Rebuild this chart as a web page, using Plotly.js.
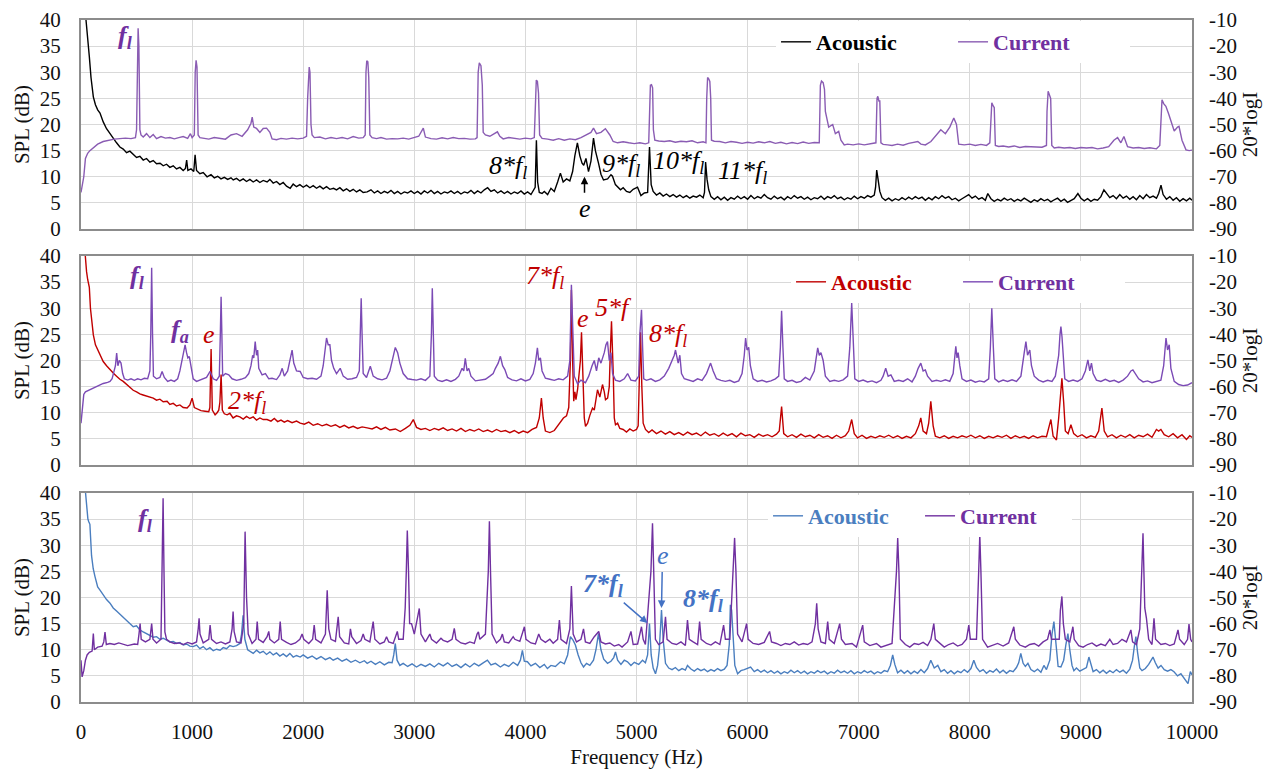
<!DOCTYPE html>
<html><head><meta charset="utf-8">
<script src="https://cdn.plot.ly/plotly-3.0.1.min.js"></script>
<style>html,body{margin:0;padding:0;background:#fff}#chart{width:1275px;height:772px}</style>
</head><body><div id="chart"></div>
<script>
// ---------- data: [frequency Hz, value] ----------
const xTickVals = [0,1000,2000,3000,4000,5000,6000,7000,8000,9000,10000];
const xTickText = ['0','1000','2000','3000','4000','5000','6000','7000','8000','9000','10000'];
const splTickVals = [0,5,10,15,20,25,30,35,40];
const currentTickVals = [-90,-80,-70,-60,-50,-40,-30,-20,-10];
const currentTickText = ['-90','-80','-70','-60','-50','-40','-30','-20','-10'];
const seriesNames = ['Acoustic','Current'];

// Panel 1 acoustic (SPL, dB)
const topAcoustic = [[15,60],[30,45],[45,40],[60,37],[75,33],[90,29],[111,25.3],[130,23.8],[150,22.8],[171,22.2],[200,20.5],[230,19.2],[260,18.2],[290,17.4],[320,16.5],[350,15.7],[380,15.3],[410,14.6],[440,14.9],[470,14.2],[500,13.7],[530,13.9],[560,13.2],[590,13.5],[620,12.8],[650,13.1],[680,12.5],[712,12.6],[740,12.1],[770,12.4],[800,11.8],[830,12.1],[860,11.5],[890,11.8],[920,11.2],[940,11.6],[951,13.2],[962,11.2],[990,11.5],[1015,11],[1027,14.2],[1040,11.2],[1070,10.6],[1100,10.8],[1135,10],[1170,10.4],[1200,9.8],[1230,10.1],[1260,9.6],[1290,9.9],[1320,9.5],[1350,9.8],[1370,9.4],[1400,9.7],[1430,9.2],[1460,9.6],[1490,9.1],[1520,9.5],[1550,9.0],[1580,9.4],[1610,8.9],[1640,9.3],[1675,9.0],[1700,9.5],[1730,8.8],[1760,9.1],[1790,8.5],[1820,8.9],[1850,8.2],[1883,7.8],[1910,8.6],[1940,8.1],[1970,8.5],[2000,8.0],[2030,8.4],[2060,7.9],[2090,8.3],[2120,7.8],[2150,8.2],[2180,7.7],[2210,8.1],[2240,7.6],[2273,7.8],[2300,7.5],[2330,7.9],[2360,7.3],[2390,7.7],[2420,7.2],[2450,7.6],[2480,7.1],[2510,7.5],[2540,7.0],[2576,7.1],[2610,7.5],[2640,6.9],[2670,7.3],[2700,6.8],[2730,7.2],[2760,6.9],[2790,7.4],[2820,6.8],[2850,7.2],[2880,6.7],[2910,7.1],[2940,6.9],[2970,7.3],[3000,6.8],[3030,7.2],[3060,6.7],[3090,7.3],[3120,6.9],[3150,7.4],[3180,6.8],[3210,7.2],[3240,6.7],[3270,7.1],[3300,6.9],[3330,7.3],[3360,6.8],[3390,7.2],[3420,6.7],[3450,7.1],[3480,6.9],[3510,7.4],[3540,6.8],[3570,7.3],[3600,6.9],[3630,7.5],[3660,7.9],[3690,7.2],[3720,7.5],[3750,6.9],[3780,7.3],[3810,6.8],[3840,7.2],[3870,6.7],[3900,7.1],[3930,6.8],[3960,7.3],[3990,6.7],[4020,7.1],[4050,6.6],[4075,7.4],[4088,8],[4099,17],[4110,9],[4125,7],[4150,6.8],[4170,7.2],[4200,6.6],[4230,7.8],[4260,7.2],[4290,9.0],[4315,10.7],[4340,9.0],[4370,9.6],[4400,9.2],[4425,11],[4445,14],[4468,16.5],[4490,14],[4510,12.6],[4525,12.2],[4545,13.5],[4568,11],[4590,13],[4613,17.4],[4630,15],[4658,12.6],[4680,10.5],[4703,9.4],[4740,9.6],[4770,10.4],[4784,10.1],[4810,8.5],[4856,7.5],[4880,7.9],[4910,7.2],[4940,7.0],[4970,7.6],[5009,8.0],[5040,6.4],[5070,6.9],[5100,7.0],[5117,15.7],[5132,8.5],[5150,7.2],[5180,6.5],[5210,6.9],[5240,6.3],[5270,6.7],[5300,6.2],[5330,6.6],[5360,6.1],[5390,6.5],[5420,6.0],[5450,6.4],[5480,5.9],[5510,6.3],[5540,6.1],[5570,6.5],[5600,6.0],[5612,7],[5622,12.8],[5635,9.5],[5650,7.5],[5670,6.2],[5700,5.7],[5730,6.2],[5760,5.6],[5790,6.1],[5820,5.5],[5850,6.0],[5880,5.7],[5910,6.3],[5940,5.8],[5970,6.2],[6000,5.7],[6030,6.4],[6060,5.8],[6090,6.2],[6120,5.9],[6150,6.6],[6180,6.0],[6210,5.7],[6240,6.3],[6270,5.8],[6300,6.1],[6330,5.6],[6360,6.2],[6390,5.8],[6420,6.4],[6450,5.9],[6480,6.2],[6510,5.7],[6540,6.1],[6570,5.6],[6600,6.0],[6630,5.8],[6660,6.3],[6690,5.7],[6720,6.2],[6750,5.9],[6780,6.4],[6810,5.8],[6840,6.1],[6870,5.6],[6900,6.0],[6930,5.7],[6960,6.3],[6990,5.8],[7020,6.2],[7050,5.9],[7080,6.4],[7110,6.1],[7140,6.5],[7152,8],[7162,11.3],[7175,9.4],[7190,7.2],[7210,6.0],[7240,5.5],[7270,5.9],[7300,5.4],[7330,5.8],[7360,5.5],[7390,6.0],[7420,5.6],[7450,6.1],[7480,5.7],[7510,6.2],[7540,5.8],[7570,6.1],[7600,5.5],[7630,6.0],[7660,5.6],[7690,6.2],[7720,5.8],[7750,6.4],[7780,5.9],[7810,6.2],[7840,5.6],[7870,5.9],[7900,5.4],[7930,5.8],[7960,6.2],[7990,6.6],[8020,5.9],[8050,6.3],[8080,5.7],[8110,6.0],[8140,5.5],[8162,6.8],[8190,5.8],[8220,5.3],[8250,5.7],[8280,5.4],[8310,5.9],[8340,5.5],[8370,5.8],[8400,5.3],[8430,5.7],[8460,5.4],[8490,5.9],[8520,5.5],[8550,5.1],[8580,5.6],[8610,5.3],[8640,5.8],[8670,5.4],[8700,5.7],[8730,5.2],[8760,5.6],[8790,5.9],[8820,5.3],[8850,5.7],[8880,5.1],[8910,5.5],[8940,5.8],[8973,6.8],[9000,5.9],[9030,5.4],[9060,5.8],[9090,5.3],[9120,5.7],[9150,5.5],[9180,6.2],[9207,7.5],[9230,6.8],[9260,6.0],[9290,6.4],[9320,5.8],[9350,6.6],[9380,5.9],[9410,6.3],[9440,5.7],[9470,6.2],[9500,5.6],[9530,6.4],[9560,5.8],[9590,6.6],[9620,6.0],[9650,6.3],[9680,5.9],[9700,6.8],[9721,8.4],[9740,6.6],[9770,5.7],[9800,6.2],[9830,5.5],[9860,6.0],[9890,5.3],[9920,5.8],[9950,5.4],[9980,5.9],[10000,5.5]];

// Panel 1 current (20*logI)
const topCurrent = [[0,-76],[10,-74],[25,-70],[40,-63],[60,-61],[80,-60],[110,-59],[150,-57.5],[200,-56.5],[250,-56],[300,-55.6],[350,-55.4],[400,-55.2],[450,-55.4],[490,-55],[500,-52],[507,-20],[514,-13.2],[521,-20],[530,-52],[540,-54],[560,-54.8],[590,-53.5],[620,-55],[650,-53.8],[680,-55.4],[720,-54.6],[760,-55.2],[800,-55],[840,-55.5],[880,-55],[920,-54.6],[960,-55.3],[985,-53.5],[1000,-55],[1020,-54],[1028,-30],[1036,-25.4],[1044,-28],[1054,-54],[1070,-55],[1100,-55.2],[1150,-55.6],[1200,-55.0],[1250,-55.3],[1300,-55.6],[1350,-54],[1400,-53.5],[1450,-54.5],[1500,-52],[1530,-49.5],[1541,-47.2],[1555,-51],[1580,-51.5],[1610,-53],[1640,-51.5],[1670,-51.4],[1700,-53],[1720,-55.5],[1760,-55.8],[1800,-55.3],[1850,-55.6],[1900,-55.2],[1950,-55.5],[2000,-55.2],[2030,-54.5],[2040,-40],[2047,-29],[2054,-28],[2061,-30],[2070,-50],[2080,-54],[2100,-55],[2150,-54.8],[2200,-55.5],[2250,-55],[2300,-55.4],[2350,-55],[2400,-55.5],[2450,-54.6],[2500,-55.2],[2540,-55],[2558,-54],[2565,-30],[2572,-25.6],[2582,-26],[2590,-32],[2600,-54],[2620,-55],[2660,-55.4],[2700,-55],[2750,-55.6],[2800,-55.4],[2850,-55.5],[2900,-55.2],[2950,-55.6],[3000,-55],[3040,-54.5],[3081,-51.4],[3100,-54.8],[3150,-55.4],[3200,-55.6],[3250,-55.1],[3300,-55.5],[3350,-55],[3400,-55.4],[3450,-55.3],[3500,-55.6],[3550,-55.5],[3565,-55],[3575,-30],[3585,-26.4],[3600,-27.5],[3612,-35],[3620,-53],[3640,-54],[3680,-54.5],[3720,-53.5],[3748,-52.8],[3770,-54.5],[3800,-55.5],[3850,-55],[3900,-55.4],[3950,-55.6],[4000,-55.2],[4050,-55.5],[4080,-55],[4090,-40],[4098,-33],[4108,-33.5],[4118,-38],[4128,-54],[4150,-55.3],[4200,-55.6],[4250,-56],[4300,-55.4],[4350,-56],[4400,-55.5],[4450,-55.8],[4500,-55],[4550,-54],[4590,-53],[4613,-51.4],[4640,-53.5],[4680,-53],[4720,-51.6],[4760,-54],[4790,-56.5],[4830,-57],[4880,-56.6],[4930,-57],[4980,-57.3],[5030,-57],[5080,-57.4],[5110,-57],[5118,-40],[5125,-35],[5135,-34.8],[5145,-36],[5152,-52],[5165,-56],[5200,-56.3],[5250,-56.5],[5300,-56.2],[5350,-56.8],[5400,-56.4],[5450,-56.6],[5500,-56.2],[5550,-57],[5600,-56.6],[5625,-57],[5632,-40],[5640,-32],[5650,-32.5],[5660,-33.5],[5668,-40],[5675,-56],[5700,-56.4],[5750,-56.5],[5800,-57],[5850,-56.5],[5900,-56.8],[5950,-57.2],[6000,-56.8],[6050,-57.1],[6100,-56.6],[6150,-57],[6200,-56.5],[6250,-57.2],[6300,-56.8],[6350,-57.4],[6400,-56.9],[6450,-57.3],[6500,-56.7],[6550,-57.2],[6600,-56.9],[6645,-57],[6655,-35],[6665,-33.4],[6680,-34],[6692,-36.5],[6700,-45],[6730,-51],[6766,-50],[6790,-53.5],[6820,-52.6],[6840,-56],[6870,-57.8],[6900,-57.5],[6950,-57.8],[7000,-57.4],[7050,-57.8],[7100,-57.5],[7140,-57],[7155,-57],[7165,-40],[7172,-39.2],[7182,-41],[7190,-41],[7200,-57],[7220,-57.6],[7260,-57.8],[7300,-58],[7350,-57.5],[7400,-57.9],[7450,-57.2],[7500,-56.8],[7532,-56.5],[7560,-57.5],[7600,-57.8],[7650,-56.5],[7700,-54],[7739,-52],[7780,-53.5],[7820,-51],[7856,-47.5],[7880,-50],[7900,-57.5],[7950,-57.8],[8000,-57.5],[8050,-58],[8100,-57.6],[8150,-58],[8180,-57],[8190,-45],[8198,-41.7],[8212,-43],[8220,-43.5],[8230,-58],[8260,-58.4],[8300,-58.2],[8350,-58.6],[8400,-58.2],[8450,-58.8],[8500,-58.4],[8550,-58.5],[8600,-58.8],[8650,-58.7],[8690,-58],[8695,-45],[8705,-37.3],[8718,-39.2],[8728,-40],[8738,-58],[8760,-59],[8800,-58.7],[8850,-59],[8900,-58.8],[8950,-59.2],[9000,-58.8],[9050,-59],[9100,-58.8],[9150,-59.3],[9200,-59],[9250,-58.5],[9297,-56],[9330,-55],[9360,-57],[9387,-54.6],[9420,-58.5],[9470,-59],[9520,-58.8],[9570,-59.2],[9620,-58.9],[9680,-59.3],[9710,-58],[9720,-45],[9730,-40.5],[9745,-42],[9765,-43],[9790,-46],[9810,-49],[9840,-52.5],[9870,-51],[9883,-50.7],[9910,-56],[9946,-59.7],[9975,-60],[10000,-59.8]];

// Panel 2 acoustic (SPL, dB)
const midAcoustic = [[20,45],[35,40],[50,37],[60,35.5],[66,34.5],[75,34],[85,30],[100,27],[111,24.9],[130,23],[150,22],[171,21],[200,19.8],[230,19],[261,18.2],[290,17.6],[320,17],[350,16.4],[380,16],[414,15.4],[440,14.8],[470,14.3],[500,14],[530,13.6],[559,13.4],[590,13.2],[620,13],[650,12.8],[680,12.4],[710,12.6],[740,12.1],[775,12.2],[800,11.6],[830,11.8],[860,11.3],[890,11.5],[920,11],[955,10.9],[980,11.5],[1000,12.8],[1020,11],[1050,10.7],[1080,10.4],[1117,10.3],[1150,10.2],[1160,11],[1171,22.2],[1182,10.5],[1207,9.6],[1225,10],[1240,10.5],[1250,12],[1261,17.3],[1272,10.5],[1290,9.8],[1315,9.6],[1340,9.9],[1369,9.0],[1400,9.4],[1430,9.2],[1460,8.8],[1490,9.3],[1520,8.9],[1550,9.2],[1580,8.6],[1610,9],[1640,8.7],[1675,8.7],[1710,8.4],[1740,8.9],[1770,8.3],[1800,8.6],[1830,8.2],[1860,8.5],[1900,8.1],[1940,8.4],[1973,8],[2010,7.8],[2050,8.2],[2090,7.6],[2130,7.9],[2170,7.5],[2210,7.8],[2250,7.4],[2290,7.7],[2330,7.2],[2370,7.6],[2410,7.1],[2450,7.4],[2490,7.0],[2530,7.3],[2576,7.1],[2620,6.9],[2660,7.3],[2700,6.8],[2740,7.2],[2780,6.7],[2830,6.9],[2874,6.4],[2920,7.0],[2960,7.6],[2991,8.7],[3020,7.2],[3060,6.8],[3100,7.0],[3140,6.6],[3180,7.0],[3220,6.7],[3260,7.1],[3300,6.6],[3340,6.9],[3380,6.5],[3420,7.0],[3460,6.4],[3500,6.8],[3540,6.5],[3580,6.9],[3620,6.4],[3660,6.7],[3700,6.3],[3740,6.8],[3780,6.4],[3820,6.6],[3860,6.2],[3900,6.6],[3940,6.1],[3980,6.5],[4020,6.2],[4060,6.8],[4100,7.2],[4125,9],[4144,12.8],[4160,9],[4180,6.5],[4220,6.2],[4260,6.6],[4300,7.8],[4342,9],[4370,9.4],[4390,11],[4405,20],[4414,33.5],[4425,20],[4435,12.2],[4445,14],[4455,12.5],[4470,14.5],[4485,18],[4495,20],[4505,25.4],[4515,18],[4530,9],[4541,7.4],[4560,8],[4580,9.5],[4604,10.9],[4620,10.5],[4635,13],[4649,14.4],[4670,13],[4694,15.4],[4710,14],[4721,12.5],[4740,12.8],[4755,15],[4765,22],[4775,27.5],[4790,18],[4800,9],[4811,7.7],[4830,8],[4850,7],[4880,6.8],[4910,6.3],[4940,6.9],[4970,6.5],[5000,6.8],[5015,7.5],[5025,15],[5036,25.4],[5048,15],[5060,8],[5081,6.8],[5110,6.2],[5140,6.7],[5180,6],[5220,6.5],[5260,5.9],[5300,6.4],[5340,5.8],[5380,6.2],[5420,5.7],[5460,6.3],[5500,5.8],[5540,6.1],[5580,5.6],[5620,6.3],[5660,5.7],[5700,6],[5740,5.5],[5780,6.1],[5820,5.6],[5860,6],[5900,5.4],[5940,6.1],[5980,5.6],[6020,5.8],[6060,5.3],[6100,5.9],[6140,5.5],[6180,5.8],[6220,5.4],[6260,5.9],[6285,6.5],[6306,11.2],[6325,6],[6360,5.4],[6400,5.8],[6440,5.3],[6480,5.9],[6520,5.4],[6560,5.7],[6600,5.2],[6640,5.8],[6680,5.3],[6720,5.6],[6760,5.1],[6800,5.7],[6840,5.2],[6880,5.6],[6910,6.5],[6937,8.7],[6960,6],[6990,5.2],[7030,5.7],[7070,5.1],[7110,5.5],[7150,5.2],[7190,5.6],[7230,5.3],[7270,5.7],[7310,5.2],[7350,5.6],[7390,5.1],[7430,5.5],[7470,5.2],[7510,6],[7540,7.5],[7559,9],[7580,6.5],[7610,6],[7630,8],[7649,12.2],[7670,7.5],[7690,5.5],[7730,5.2],[7770,5.6],[7810,5.1],[7850,5.5],[7890,5.2],[7930,5.6],[7970,5.3],[8010,5.7],[8050,5.2],[8090,5.6],[8130,5.1],[8170,5.5],[8210,5.2],[8250,5.6],[8290,5.3],[8330,5.7],[8370,5.1],[8410,5.6],[8450,5.2],[8490,5.5],[8530,5.1],[8570,5.6],[8610,5.2],[8650,5.5],[8690,5.4],[8715,7.5],[8730,8.7],[8750,5.5],[8780,4.8],[8800,9],[8815,14],[8829,16.6],[8845,12],[8860,6.5],[8885,6],[8910,7.7],[8935,6],[8970,5.4],[9010,5.8],[9050,5.2],[9090,5.6],[9130,5.3],[9160,6.5],[9189,10.9],[9210,6.5],[9240,5.4],[9280,5.8],[9320,5.2],[9360,5.7],[9400,5.3],[9440,5.8],[9480,5.2],[9520,5.7],[9560,5.4],[9600,5.9],[9640,5.3],[9680,6.8],[9700,6.5],[9720,6.8],[9750,5.8],[9790,5.4],[9830,6],[9870,5.2],[9910,5.8],[9950,4.9],[9980,5.6],[10000,5.3]];

// Panel 2 current (20*logI)
const midCurrent = [[0,-74],[10,-70],[25,-63],[40,-62],[60,-61.6],[80,-61],[111,-60.6],[140,-60],[171,-59.2],[200,-58.8],[240,-58.4],[261,-58],[280,-57],[300,-54],[310,-52],[321,-47.2],[332,-52],[345,-50],[360,-51],[375,-55],[390,-57],[420,-57.5],[450,-57],[480,-57.6],[510,-57],[540,-57.4],[570,-56.8],[600,-57],[620,-54],[628,-40],[636,-14.5],[644,-40],[652,-56],[680,-57],[710,-56.5],[730,-54.2],[750,-56.5],[780,-58],[810,-57.5],[840,-58],[870,-57],[890,-54],[910,-50],[925,-46],[937,-44],[950,-47],[962,-49],[975,-48.5],[990,-53],[1010,-57],[1040,-58],[1070,-57.6],[1100,-57.2],[1130,-56.5],[1162,-54.2],[1190,-57],[1220,-57.6],[1245,-56],[1254,-40],[1261,-25.6],[1268,-40],[1275,-56],[1300,-55],[1330,-55.5],[1360,-57],[1400,-57.6],[1440,-57.2],[1480,-56.6],[1510,-55],[1530,-52],[1545,-48],[1555,-49],[1568,-42.8],[1580,-48],[1590,-46],[1600,-53],[1630,-55.5],[1660,-55],[1690,-57],[1720,-56.8],[1760,-57.3],[1790,-55.5],[1811,-53],[1830,-56],[1860,-54],[1880,-50],[1900,-46],[1915,-51],[1940,-54],[1973,-54.2],[2000,-56.5],[2040,-57],[2080,-56.8],[2120,-57.2],[2160,-56],[2180,-52],[2195,-46],[2210,-41.4],[2225,-44],[2240,-44],[2255,-50],[2275,-53],[2300,-55],[2333,-53],[2360,-56],[2400,-57.2],[2440,-57],[2480,-56.5],[2505,-54],[2514,-40],[2522,-26.2],[2530,-40],[2540,-55],[2570,-56.5],[2604,-52.2],[2630,-56],[2670,-57],[2710,-57.4],[2750,-56.8],[2780,-54],[2800,-50],[2829,-45],[2850,-47],[2870,-51],[2900,-55],[2940,-57],[2980,-57.3],[3020,-57.5],[3060,-57],[3100,-57.6],[3140,-56],[3154,-40],[3162,-22.4],[3170,-40],[3180,-56],[3210,-57.5],[3250,-58],[3290,-57.4],[3330,-58],[3370,-57.2],[3400,-56],[3430,-53],[3445,-54],[3459,-49.2],[3475,-54],[3490,-53],[3510,-56],[3550,-57.8],[3600,-57.5],[3640,-57.2],[3680,-56],[3710,-55],[3730,-53],[3755,-51],[3775,-48.4],[3795,-52],[3815,-53.5],[3840,-56.5],[3880,-57.4],[3920,-57.8],[3960,-57],[4000,-57.8],[4040,-57.2],[4070,-55],[4090,-51],[4108,-45.2],[4120,-50],[4135,-49],[4150,-54],[4180,-56.8],[4220,-57.2],[4260,-57.6],[4300,-57],[4340,-57.4],[4380,-56],[4400,-50],[4414,-21],[4425,-40],[4440,-56],[4470,-59],[4500,-57.5],[4540,-58.5],[4570,-56],[4600,-52],[4620,-50],[4640,-54],[4660,-49],[4680,-51],[4710,-47],[4725,-44],[4739,-42.8],[4755,-50],[4770,-47],[4785,-55],[4810,-57.5],[4850,-58],[4890,-57],[4920,-55],[4950,-57.5],[4990,-57.8],[5020,-56],[5030,-40],[5045,-30.6],[5055,-45],[5065,-57],[5090,-57.6],[5130,-57],[5170,-58],[5210,-57.4],[5250,-56],[5290,-53],[5320,-50],[5340,-48],[5351,-46],[5362,-48],[5375,-51],[5390,-48],[5405,-55],[5430,-57],[5470,-57.6],[5510,-58],[5550,-57],[5590,-57.6],[5630,-55],[5650,-53],[5667,-51],[5690,-54],[5720,-57],[5760,-57.6],[5800,-58],[5840,-57.6],[5880,-58.4],[5920,-57.8],[5950,-55],[5970,-48],[5982,-41.4],[5995,-46],[6010,-45],[6025,-52],[6050,-57],[6090,-58],[6130,-57.6],[6170,-58.2],[6210,-57.8],[6250,-57],[6280,-56],[6295,-45],[6306,-31],[6318,-45],[6330,-57],[6360,-58],[6400,-57.6],[6440,-58.4],[6480,-58],[6520,-56.5],[6560,-57.5],[6600,-54],[6620,-48],[6631,-45.2],[6645,-48],[6660,-47],[6680,-50],[6700,-56],[6740,-58],[6780,-57.6],[6820,-58],[6860,-57.4],[6900,-56],[6920,-45],[6937,-28],[6950,-40],[6965,-57],[7000,-58],[7040,-57.5],[7080,-58.2],[7120,-57.8],[7160,-58.5],[7200,-57.6],[7220,-56],[7243,-53],[7265,-56],[7290,-55.5],[7320,-58],[7360,-57.6],[7400,-58],[7440,-57],[7480,-58.2],[7510,-56],[7535,-53],[7559,-51],[7580,-54],[7600,-53.6],[7620,-56],[7660,-58],[7700,-57.6],[7740,-58],[7780,-57.4],[7820,-58],[7850,-55],[7865,-49],[7874,-44.6],[7885,-49],[7895,-47],[7910,-52],[7930,-57],[7970,-58],[8010,-57.5],[8050,-58.3],[8090,-57.8],[8130,-58.2],[8170,-57],[8185,-45],[8198,-30],[8212,-45],[8225,-57],[8260,-58.2],[8300,-57.5],[8340,-58],[8380,-57.4],[8420,-58],[8460,-56],[8490,-47],[8505,-42.8],[8520,-48],[8540,-46],[8555,-52],[8580,-56],[8620,-57.5],[8660,-58.2],[8700,-57.6],[8740,-58],[8770,-56],[8800,-48],[8812,-40],[8820,-37],[8830,-41],[8840,-47],[8855,-57],[8890,-58],[8930,-57.5],[8970,-58],[9010,-57],[9040,-54],[9063,-49.8],[9080,-54],[9095,-51],[9110,-55],[9140,-57.5],[9180,-58],[9220,-57.2],[9260,-58],[9300,-57.6],[9340,-58.4],[9380,-57.5],[9420,-56],[9450,-54],[9468,-53.6],[9490,-55],[9520,-57],[9560,-58.2],[9600,-57.8],[9640,-58.5],[9680,-58],[9720,-57.5],[9745,-52],[9755,-46],[9766,-41.4],[9780,-46],[9795,-44],[9810,-53],[9840,-58],[9880,-59.2],[9920,-59.6],[9960,-59.4],[10000,-58.5]];

// Panel 3 acoustic (SPL, dB)
const botAcoustic = [[20,45],[40,40],[54,36],[62,35],[70,34.5],[80,34],[95,28],[110,25.5],[126,24],[150,22],[171,21.4],[200,20.4],[230,19.6],[261,18.9],[290,18],[320,17.4],[350,16.8],[380,16.2],[414,15.7],[440,15],[470,14.4],[500,14.6],[530,13.8],[560,13.4],[590,13.1],[620,12.8],[650,12.4],[680,12.5],[710,12],[740,12.2],[775,11.8],[800,11.5],[830,11.6],[860,11.2],[890,11.4],[920,10.9],[950,11.1],[980,10.7],[1009,10.6],[1040,10.9],[1070,10.2],[1100,10.6],[1130,10],[1160,10.4],[1190,9.8],[1220,10.1],[1252,9.9],[1280,10.4],[1310,10.2],[1340,10.8],[1369,10.6],[1400,10.8],[1430,11.2],[1445,13],[1459,16.6],[1475,12],[1500,10],[1530,9.6],[1550,9.3],[1580,9.9],[1610,9.4],[1640,9.7],[1670,9.1],[1700,9.6],[1730,9.0],[1760,9.4],[1790,8.8],[1820,9.2],[1850,8.7],[1880,9.3],[1910,8.6],[1940,8.9],[1973,8.6],[2000,9],[2040,8.4],[2080,8.8],[2120,8.2],[2160,8.7],[2200,8.1],[2240,8.5],[2270,8],[2310,8.4],[2350,7.8],[2390,8.2],[2430,7.6],[2470,8],[2510,7.5],[2550,7.9],[2576,7.4],[2610,7.8],[2650,7.2],[2690,7.7],[2730,7.1],[2770,7.6],[2800,7.5],[2815,9],[2829,11.2],[2845,8],[2870,7],[2900,7.4],[2940,6.8],[2980,7.3],[3020,6.7],[3060,7.2],[3100,6.8],[3140,7.3],[3180,6.7],[3220,7.4],[3260,6.9],[3300,7.5],[3340,6.8],[3380,7.2],[3420,6.6],[3460,7.3],[3500,6.7],[3540,7.4],[3580,6.9],[3620,7.5],[3658,8],[3690,7.1],[3730,7.4],[3775,6.7],[3810,7.2],[3850,6.8],[3890,7.6],[3930,7.0],[3955,8],[3973,9.9],[3990,7.8],[4018,7.7],[4050,6.9],[4090,7.4],[4130,6.6],[4170,7.2],[4198,6.4],[4230,7.0],[4270,6.8],[4315,7.7],[4350,7.3],[4380,9],[4405,12.5],[4430,11.8],[4450,10.9],[4475,9],[4500,7.5],[4523,6.7],[4550,7.4],[4580,7.0],[4613,8],[4635,10],[4658,13.1],[4680,10],[4705,8.2],[4739,7.4],[4770,7.8],[4795,8.5],[4811,9.6],[4830,8],[4860,7.2],[4890,8],[4919,7.7],[4950,7],[4980,7.6],[5020,7.2],[5054,8],[5080,7.5],[5100,9],[5117,15],[5132,9],[5150,6.5],[5171,5.4],[5190,7],[5205,10],[5225,17.6],[5240,12],[5261,7.4],[5290,6.5],[5320,6.2],[5350,6.6],[5380,6.0],[5410,6.4],[5440,6.1],[5459,7.0],[5490,6.3],[5520,5.9],[5550,6.4],[5580,6.0],[5610,6.3],[5640,5.8],[5670,6.2],[5700,5.9],[5730,6.4],[5760,6.0],[5790,6.3],[5815,7],[5835,11],[5845,18.6],[5856,17.6],[5870,11],[5885,7],[5910,5.4],[5940,6.0],[5970,6.2],[6027,6.7],[6060,5.8],[6090,6.2],[6120,5.7],[6150,6.1],[6180,5.6],[6210,6.0],[6240,5.5],[6270,5.9],[6300,5.4],[6330,5.8],[6360,5.5],[6390,6.1],[6420,5.6],[6450,6.0],[6480,5.5],[6510,5.9],[6540,5.4],[6570,5.8],[6600,5.5],[6630,6.0],[6660,5.6],[6690,5.9],[6720,5.4],[6750,5.8],[6780,5.5],[6810,6.1],[6840,5.6],[6870,5.9],[6900,5.5],[6930,6.0],[6960,5.4],[6990,5.8],[7020,5.5],[7050,6.0],[7080,5.6],[7110,5.9],[7140,5.4],[7170,5.8],[7200,5.5],[7230,6.0],[7260,5.8],[7285,7],[7306,9],[7325,7.2],[7350,5.6],[7380,6.1],[7410,5.5],[7440,6.0],[7470,5.4],[7500,5.9],[7530,5.5],[7560,6.2],[7590,5.6],[7620,6.4],[7649,8],[7680,6.5],[7712,7],[7740,5.8],[7770,6.2],[7800,5.5],[7830,6.0],[7860,5.4],[7890,5.9],[7920,5.6],[7950,6.2],[7980,5.7],[8010,6.4],[8036,8],[8060,6.6],[8090,5.8],[8120,6.2],[8150,5.5],[8180,6.0],[8210,5.7],[8240,6.3],[8270,5.6],[8300,6.1],[8330,5.5],[8360,6.0],[8390,5.8],[8420,6.6],[8440,7.5],[8459,9.3],[8480,7.4],[8500,6.8],[8523,7.4],[8550,6.2],[8580,5.8],[8610,6.3],[8640,5.7],[8667,7],[8690,6.2],[8720,8],[8740,13],[8757,15.4],[8775,11],[8795,6.8],[8820,6.7],[8845,8],[8865,11],[8883,13.1],[8900,10],[8920,7],[8937,6],[8960,6.5],[8990,5.9],[9020,6.3],[9050,6.6],[9072,8.6],[9090,7],[9110,5.8],[9140,6.2],[9170,5.6],[9200,6.1],[9230,5.5],[9260,6.0],[9290,5.6],[9320,6.2],[9350,5.7],[9380,6.1],[9410,5.5],[9440,6.3],[9465,8],[9480,10.5],[9495,12.5],[9510,9.5],[9530,6.5],[9550,6.0],[9580,6.4],[9610,7.2],[9630,8],[9649,8.6],[9670,7.5],[9695,6.5],[9721,7],[9750,6.2],[9780,5.9],[9810,6.2],[9838,5.8],[9870,5.0],[9900,5.4],[9930,4.6],[9964,3.5],[9985,5.8],[10000,5.2]];

// Panel 3 current (20*logI)
const botCurrent = [[0,-74],[10,-80.4],[25,-78],[40,-74],[55,-72],[75,-71],[100,-70.5],[111,-63.8],[120,-70],[150,-69],[190,-68.6],[205,-67],[216,-63.2],[228,-68],[260,-67.6],[300,-68],[340,-67.4],[380,-68],[420,-68.4],[480,-67.8],[510,-68],[522,-64],[532,-60],[542,-66],[580,-67],[620,-66],[636,-60],[648,-66],[680,-67.4],[720,-66],[731,-40],[739,-12],[747,-40],[755,-63.2],[770,-66],[800,-67],[840,-67.6],[880,-67.4],[920,-68],[960,-67.2],[1000,-67.8],[1040,-67],[1055,-62],[1063,-58],[1071,-64],[1100,-67.4],[1150,-66],[1162,-60.6],[1175,-66],[1220,-67.6],[1260,-67],[1300,-67.8],[1340,-67],[1360,-62],[1369,-55.4],[1378,-63],[1400,-67],[1440,-67.4],[1465,-60],[1477,-24.8],[1490,-50],[1505,-64],[1540,-67.6],[1575,-66],[1586,-59.2],[1598,-66],[1640,-67.2],[1675,-65],[1690,-63],[1700,-66],[1740,-67.4],[1780,-66],[1793,-59.2],[1805,-66],[1850,-67.2],[1890,-68],[1930,-67.4],[1970,-66],[1990,-64],[2005,-66],[2050,-67.6],[2085,-66],[2099,-60.6],[2112,-66],[2160,-67.4],[2200,-64],[2216,-47.2],[2230,-62],[2250,-66],[2290,-66.8],[2315,-57.4],[2328,-65],[2370,-67.4],[2410,-67.8],[2425,-62],[2437,-65],[2480,-67.6],[2520,-66.5],[2540,-64],[2555,-66],[2600,-67],[2630,-59.2],[2645,-66],[2690,-67.8],[2730,-67],[2750,-65],[2770,-67],[2810,-67.6],[2847,-63],[2860,-66],[2900,-66],[2918,-54],[2928,-40],[2937,-24.4],[2948,-40],[2958,-60],[2975,-60],[3000,-64],[3045,-54.2],[3060,-64],[3100,-67],[3140,-64],[3155,-66],[3200,-67.4],[3240,-65.6],[3260,-66.4],[3300,-67],[3340,-66],[3360,-61.8],[3375,-66],[3420,-67.4],[3460,-67.8],[3500,-67],[3540,-67.6],[3565,-64],[3577,-63.2],[3590,-66],[3640,-64],[3666,-40],[3676,-20.8],[3686,-40],[3700,-64],[3740,-67.4],[3775,-66],[3793,-64],[3810,-67],[3850,-67.4],[3890,-65],[3905,-66],[3950,-66.8],[3991,-61.2],[4005,-66],[4050,-67.4],[4090,-67.8],[4120,-64],[4140,-66],[4180,-67.2],[4220,-66],[4250,-67.5],[4290,-66],[4306,-58.6],[4320,-66],[4370,-67.6],[4400,-62],[4414,-45.6],[4430,-64],[4460,-67],[4500,-66],[4523,-62],[4540,-67],[4580,-67.6],[4620,-65],[4660,-63],[4680,-67],[4720,-67.8],[4760,-67.4],[4800,-68.6],[4840,-68],[4870,-69],[4920,-67],[4950,-63],[4970,-68],[5010,-67.8],[5045,-61.2],[5060,-66],[5080,-68],[5130,-40],[5144,-21.6],[5155,-40],[5170,-66],[5200,-68],[5240,-67],[5261,-57.4],[5275,-66],[5320,-67.6],[5360,-68],[5400,-67],[5440,-68.4],[5459,-58.6],[5475,-66],[5510,-67],[5550,-68],[5568,-59.2],[5582,-66],[5630,-67.6],[5670,-68.2],[5710,-67],[5750,-68],[5784,-60.6],[5800,-66],[5840,-66],[5870,-40],[5883,-27.2],[5895,-40],[5910,-64],[5950,-67],[5991,-60],[6005,-66],[6050,-67.6],[6100,-68],[6150,-67.2],[6198,-63],[6215,-67],[6260,-67.6],[6300,-68.4],[6340,-67.6],[6380,-68],[6420,-67],[6460,-68.2],[6500,-67.6],[6540,-68],[6580,-67],[6610,-60],[6622,-52.2],[6635,-62],[6660,-67],[6700,-67.6],[6721,-59.2],[6735,-66],[6780,-67.6],[6829,-60],[6845,-66],[6880,-68],[6940,-67.6],[6980,-69],[7036,-60.6],[7050,-67],[7100,-68.4],[7160,-67.6],[7200,-69],[7260,-68],[7300,-67.6],[7340,-40],[7351,-27.2],[7362,-40],[7375,-66],[7420,-68],[7460,-69],[7500,-67.6],[7540,-68],[7580,-67.2],[7620,-68.4],[7650,-66],[7676,-60],[7690,-66],[7730,-67.4],[7770,-69],[7810,-68],[7850,-67.4],[7890,-68.6],[7930,-68],[7970,-66],[7991,-60.6],[8005,-66],[8060,-66],[8080,-40],[8090,-26],[8100,-40],[8115,-66],[8160,-69],[8200,-68.4],[8250,-67.6],[8300,-68.6],[8350,-67.4],[8396,-61.2],[8410,-66],[8450,-68.2],[8500,-69],[8540,-68],[8580,-67.6],[8620,-68.6],[8660,-67],[8700,-66],[8721,-62.4],[8735,-66],[8805,-66],[8815,-55],[8829,-49.6],[8842,-60],[8860,-66],[8900,-67],[8928,-61.2],[8940,-66],[8980,-68.4],[9020,-69],[9060,-68],[9100,-67.4],[9140,-68.6],[9180,-67.8],[9220,-68.4],[9260,-66],[9290,-68],[9330,-67.6],[9370,-66],[9410,-67],[9450,-62.4],[9465,-67],[9500,-68],[9530,-62],[9550,-30],[9559,-25.4],[9567,-40],[9575,-54],[9590,-58],[9610,-66],[9640,-68],[9658,-58],[9672,-66],[9720,-68],[9760,-67.6],[9800,-68.4],[9840,-67.8],[9874,-62.4],[9888,-66],[9930,-68],[9960,-66],[9973,-60.2],[9988,-66],[10000,-67]];

// ---------- styling ----------
const FONT = 'Liberation Serif';
const C = {
  black:'#000000', red:'#c00000', blue:'#4a7ebf',
  purpleTop:'#8a5cb3', purpleMid:'#7b4ab5', purpleBot:'#7030a0',
  purpleText:'#7030a0', blueText:'#4472c4', grid:'#d9d9d9', frame:'#8c8c8c'
};
const fx = a => a.map(p => p[0]);
const fy = a => a.map(p => p[1]);
function line(data, xa, ya, color, name, legend){
  return {type:'scatter', mode:'lines', x:fx(data), y:fy(data), xaxis:xa, yaxis:ya,
    line:{color:color, width:1.4}, name:name, legend:legend, hoverinfo:'skip'};
}
const leg = (txt,col) => '<span style="color:'+col+'"><b>'+txt+'</b></span>';

const traces = [
  line(topAcoustic,'x','y',C.black, leg(seriesNames[0],C.black),'legend'),
  line(topCurrent,'x','y2',C.purpleTop, leg(seriesNames[1],C.purpleText),'legend'),
  line(midAcoustic,'x2','y3',C.red, leg(seriesNames[0],C.red),'legend2'),
  line(midCurrent,'x2','y4',C.purpleMid, leg(seriesNames[1],C.purpleText),'legend2'),
  line(botAcoustic,'x3','y5',C.blue, leg(seriesNames[0],C.blue),'legend3'),
  line(botCurrent,'x3','y6',C.purpleBot, leg(seriesNames[1],C.purpleText),'legend3')
];

const tickFont = {family:FONT, size:21, color:'#111'};
const titleFont = {family:FONT, size:21, color:'#111'};
function xax(anchor, showLabels){
  const o = {anchor:anchor, domain:[0,1], range:[0,10000], tickvals:xTickVals, ticktext:xTickText,
    showgrid:true, gridcolor:C.grid, gridwidth:1, zeroline:false, showline:true, mirror:true,
    linecolor:C.frame, linewidth:2, ticks:'', showticklabels:showLabels, tickfont:tickFont,
    ticklabelstandoff:10, fixedrange:true};
  if(showLabels){ o.title = {text:'Frequency (Hz)', font:titleFont, standoff:6}; }
  return o;
}
function yLeft(domain, anchor){
  return {domain:domain, anchor:anchor, range:[0,40], tickvals:splTickVals, showgrid:true,
    gridcolor:C.grid, gridwidth:1, zeroline:false, showline:true, mirror:true,
    linecolor:C.frame, linewidth:2, ticks:'', tickfont:tickFont, ticklabelstandoff:14,
    title:{text:'SPL (dB)', font:titleFont, standoff:4}, fixedrange:true};
}
function yRight(over, anchor){
  return {overlaying:over, anchor:anchor, side:'right', range:[-90,-10], tickvals:currentTickVals,
    ticktext:currentTickText, showgrid:false, zeroline:false, showline:false, ticks:'',
    tickfont:tickFont, ticklabelstandoff:16,
    title:{text:'20*logI', font:titleFont, standoff:6}, fixedrange:true};
}
const dTop=[0.6935,1], dMid=[0.3475,0.654], dBot=[0,0.3065];

function legendBox(x, y, ew){
  return {x:x, y:y, xanchor:'left', yanchor:'middle', orientation:'h', bgcolor:'#ffffff',
    borderwidth:0, font:{family:FONT, size:22}, itemwidth:30, entrywidth:ew,
    traceorder:'normal', itemclick:false, itemdoubleclick:false};
}

function lab(xr, yr, x, y, text, color, extra){
  return Object.assign({xref:xr, yref:yr, x:x, y:y, text:text, showarrow:false,
    font:{family:FONT, size:26, color:color}, xanchor:'center', yanchor:'middle'}, extra||{});
}
const arrowOpts = (col, ax, ay) => ({showarrow:true, ax:ax, ay:ay, arrowhead:2, arrowsize:1,
  arrowwidth:1.5, arrowcolor:col, standoff:0, startstandoff:0});

const annotations = [
  lab('x','y',396,36.7,'<b><i>f<sub>l</sub></i></b>',C.purpleText),
  lab('x','y',3847,11.9,'<i>8*f<sub>l</sub></i>',C.black),
  lab('x','y',4532,10.0,'<i>e</i>',C.black, arrowOpts(C.black,0,32)),
  lab('x','y',4856,12.2,'<i>9*f<sub>l</sub></i>',C.black),
  lab('x','y',5378,12.8,'<i>10*f<sub>l</sub></i>',C.black),
  lab('x','y',5955,10.9,'<i>11*f<sub>l</sub></i>',C.black),

  lab('x2','y3',507,36,'<b><i>f<sub>l</sub></i></b>',C.purpleText),
  lab('x2','y3',892,25.6,'<b><i>f<sub>a</sub></i></b>',C.purpleText),
  lab('x2','y3',1153,24.9,'<i>e</i>',C.red),
  lab('x2','y3',1495,12.1,'<i>2*f<sub>l</sub></i>',C.red),
  lab('x2','y3',4180,36,'<i>7*f<sub>l</sub></i>',C.red),
  lab('x2','y3',4522,28.1,'<i>e</i>',C.red),
  lab('x2','y3',4793,30.2,'<i>5*f</i>',C.red),
  lab('x2','y3',5279,24.9,'<i>8*f<sub>l</sub></i>',C.red),

  lab('x3','y5',577,34.8,'<b><i>f<sub>l</sub></i></b>',C.purpleText),
  lab('x3','y5',5099,15.1,'<b><i>7*f<sub>l</sub></i></b>',C.blueText, arrowOpts(C.blueText,-44,-38)),
  lab('x3','y5',5225,18.0,'<i>e</i>',C.blueText, arrowOpts(C.blueText,1,-52)),
  lab('x3','y5',5604,19.5,'<b><i>8*f<sub>l</sub></i></b>',C.blueText)
];

const layout = {
  width:1275, height:772, margin:{l:81, r:83, t:20, b:70, pad:0},
  paper_bgcolor:'#ffffff', plot_bgcolor:'#ffffff',
  font:{family:FONT, size:18, color:'#111'},
  showlegend:true, hovermode:false,
  xaxis:xax('y',false), xaxis2:xax('y3',false), xaxis3:xax('y5',true),
  yaxis:yLeft(dTop,'x'), yaxis2:yRight('y','x'),
  yaxis3:yLeft(dMid,'x2'), yaxis4:yRight('y3','x2'),
  yaxis5:yLeft(dBot,'x3'), yaxis6:yRight('y5','x3'),
  legend:legendBox(0.6256, 0.9677, 132),
  legend2:legendBox(0.6391, 0.6158, 122),
  legend3:legendBox(0.6184, 0.2727, 107),
  annotations:annotations
};

Plotly.newPlot('chart', traces, layout, {staticPlot:true, displayModeBar:false});
</script></body></html>
